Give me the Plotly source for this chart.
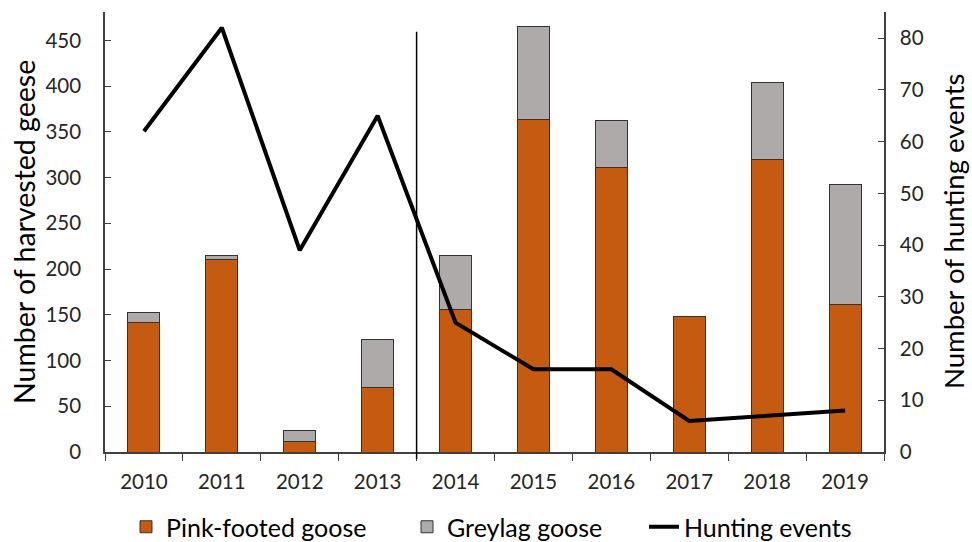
import plotly.graph_objects as go

years = ["2010", "2011", "2012", "2013", "2014", "2015", "2016", "2017", "2018", "2019"]
pink_footed = [142, 210, 11, 71, 156, 364, 311, 148, 320, 161]
greylag = [10, 5, 12, 52, 59, 101, 51, 0, 84, 131]
hunting_events = [62, 82, 39, 65, 25, 16, 16, 6, 7, 8]
left_ticks = [0, 50, 100, 150, 200, 250, 300, 350, 400, 450]
right_ticks = [0, 10, 20, 30, 40, 50, 60, 70, 80]

FONT = "Lato"
AX = "#404040"
TICK = "#262626"

fig = go.Figure()
fig.add_trace(go.Bar(x=years, y=pink_footed, name="Pink-footed goose", legend="legend",
                     marker=dict(color="#C55A11", line=dict(color="#333333", width=1)),
                     width=0.41))
fig.add_trace(go.Bar(x=years, y=greylag, name="Greylag goose", legend="legend2",
                     marker=dict(color="#AEAAAA", line=dict(color="#333333", width=1)),
                     width=0.41))
fig.add_trace(go.Scatter(x=years, y=hunting_events, name="Hunting events", yaxis="y2",
                         legend="legend3",
                         mode="lines", line=dict(color="black", width=4)))

fig.add_shape(type="line", xref="x", yref="paper", x0=3.5, x1=3.5, y0=-0.016, y1=0.955,
              line=dict(color="black", width=1.5))

leg_common = dict(orientation="h", xref="container", yref="container", y=1 - 527 / 542,
                  yanchor="middle", xanchor="left", font=dict(size=25, color="black"),
                  bgcolor="rgba(0,0,0,0)")

fig.add_annotation(text="Number of harvested geese", xref="paper", yref="paper",
                   x=(24 - 105) / 779, y=0.5, showarrow=False,
                   textangle=-90, font=dict(size=28.5, color="black"),
                   xanchor="center", yanchor="middle")
fig.add_annotation(text="Number of hunting events", xref="paper", yref="paper",
                   x=(953 - 105) / 779, y=0.5, showarrow=False,
                   textangle=-90, font=dict(size=27.5, color="black"),
                   xanchor="center", yanchor="middle")

fig.update_layout(
    width=972, height=542,
    margin=dict(l=105, r=88, t=12, b=90, autoexpand=False),
    barmode="stack",
    plot_bgcolor="white", paper_bgcolor="white",
    font=dict(family=FONT, size=20, color=TICK),
    showlegend=True,
    legend=dict(x=(167 - 41) / 972, **leg_common),
    legend2=dict(x=(448 - 41) / 972, **leg_common),
    legend3=dict(x=(685 - 41) / 972, **leg_common),
    xaxis=dict(type="category", showline=True, linecolor=AX, linewidth=1.5,
               ticks="outside", ticklen=7, tickcolor=AX, tickson="boundaries",
               showgrid=False, tickfont=dict(size=20.5), range=[-0.5, 9.5],
               automargin=False, ticklabelstandoff=11),
    yaxis=dict(range=[0, 481], tickvals=left_ticks, showline=True, linecolor=AX, linewidth=1.5,
               ticks="inside", ticklen=6, tickcolor=AX, showgrid=False, zeroline=False,
               tickfont=dict(size=20.5), automargin=False, ticklabelstandoff=18),
    yaxis2=dict(range=[0, 85.05], tickvals=right_ticks, overlaying="y", side="right",
                showline=True, linecolor=AX, linewidth=1.5,
                ticks="inside", ticklen=6, tickcolor=AX, showgrid=False, zeroline=False,
                tickfont=dict(size=20.5), automargin=False, ticklabelstandoff=10),
)

fig.write_html("out.html", config={"displayModeBar": False},
               post_script="document.body.style.margin='0';")
